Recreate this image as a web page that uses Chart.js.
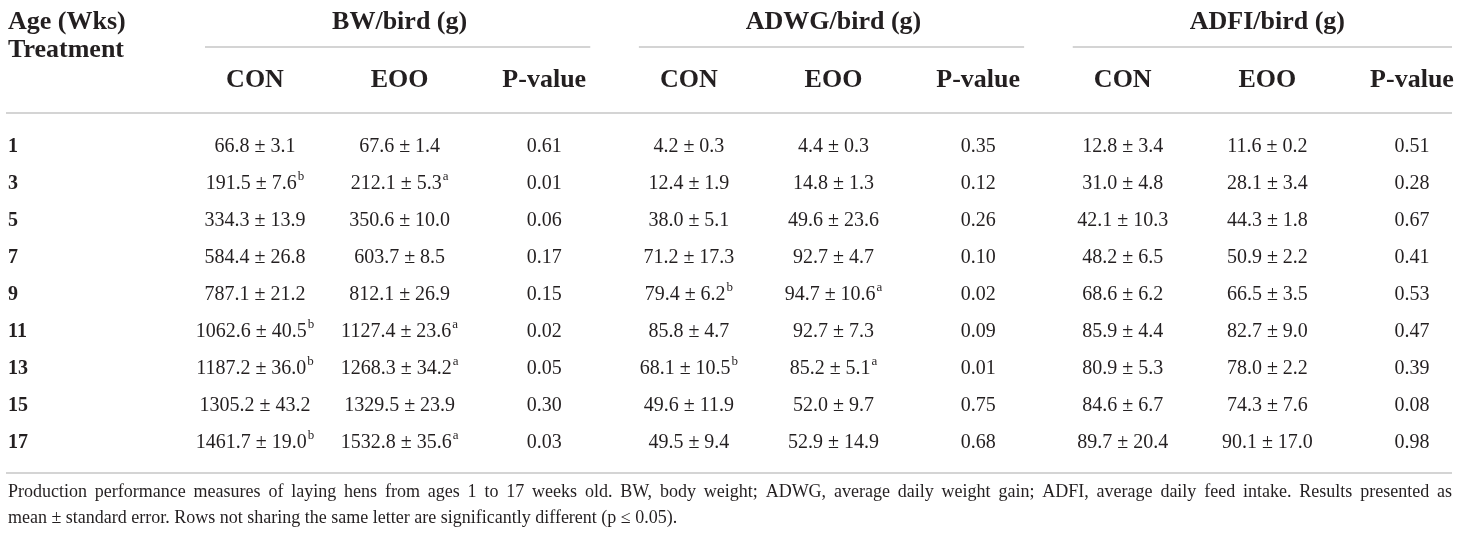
<!DOCTYPE html>
<html>
<head>
<meta charset="utf-8">
<title>Production performance of laying hens</title>
<script src="https://cdn.jsdelivr.net/npm/chart.js@4.4.0/dist/chart.umd.min.js"></script>
<style>
  html, body { margin: 0; padding: 0; background: #fff; }
  #wrap { width: 1460px; height: 540px; }
</style>
</head>
<body>
<div id="wrap"><canvas id="tbl" width="1460" height="540"></canvas></div>
<script>
// ---- table values ----
const ages = ['1', '3', '5', '7', '9', '11', '13', '15', '17'];
const groups = ['BW/bird (g)', 'ADWG/bird (g)', 'ADFI/bird (g)'];
const subCols = ['CON', 'EOO', 'P-value'];

const bwCon = [66.8, 191.5, 334.3, 584.4, 787.1, 1062.6, 1187.2, 1305.2, 1461.7];
const bwConSe = [3.1, 7.6, 13.9, 26.8, 21.2, 40.5, 36.0, 43.2, 19.0];
const bwConSup = ['', 'b', '', '', '', 'b', 'b', '', 'b'];
const bwEoo = [67.6, 212.1, 350.6, 603.7, 812.1, 1127.4, 1268.3, 1329.5, 1532.8];
const bwEooSe = [1.4, 5.3, 10.0, 8.5, 26.9, 23.6, 34.2, 23.9, 35.6];
const bwEooSup = ['', 'a', '', '', '', 'a', 'a', '', 'a'];
const bwP = [0.61, 0.01, 0.06, 0.17, 0.15, 0.02, 0.05, 0.30, 0.03];

const adwgCon = [4.2, 12.4, 38.0, 71.2, 79.4, 85.8, 68.1, 49.6, 49.5];
const adwgConSe = [0.3, 1.9, 5.1, 17.3, 6.2, 4.7, 10.5, 11.9, 9.4];
const adwgConSup = ['', '', '', '', 'b', '', 'b', '', ''];
const adwgEoo = [4.4, 14.8, 49.6, 92.7, 94.7, 92.7, 85.2, 52.0, 52.9];
const adwgEooSe = [0.3, 1.3, 23.6, 4.7, 10.6, 7.3, 5.1, 9.7, 14.9];
const adwgEooSup = ['', '', '', '', 'a', '', 'a', '', ''];
const adwgP = [0.35, 0.12, 0.26, 0.10, 0.02, 0.09, 0.01, 0.75, 0.68];

const adfiCon = [12.8, 31.0, 42.1, 48.2, 68.6, 85.9, 80.9, 84.6, 89.7];
const adfiConSe = [3.4, 4.8, 10.3, 6.5, 6.2, 4.4, 5.3, 6.7, 20.4];
const adfiEoo = [11.6, 28.1, 44.3, 50.9, 66.5, 82.7, 78.0, 74.3, 90.1];
const adfiEooSe = [0.2, 3.4, 1.8, 2.2, 3.5, 9.0, 2.2, 7.6, 17.0];
const adfiP = [0.51, 0.28, 0.67, 0.41, 0.53, 0.47, 0.39, 0.08, 0.98];

const notes = [
  'Production performance measures of laying hens from ages 1 to 17 weeks old. BW, body weight; ADWG, average daily weight gain; ADFI, average daily feed intake. Results presented as',
  'mean \u00b1 standard error. Rows not sharing the same letter are significantly different (p \u2264 0.05).'
];

// ---- styles ----
const INK = '#231f20';
const RULE = '#c6c6c6';
const SERIF = '"Liberation Serif", "DejaVu Serif", serif';

// one entry per table column, in the same order as the x labels
const noSup = ages.map(() => '');
const columns = [
  { mean: bwCon, se: bwConSe, sup: bwConSup },
  { mean: bwEoo, se: bwEooSe, sup: bwEooSup },
  { p: bwP },
  { mean: adwgCon, se: adwgConSe, sup: adwgConSup },
  { mean: adwgEoo, se: adwgEooSe, sup: adwgEooSup },
  { p: adwgP },
  { mean: adfiCon, se: adfiConSe, sup: noSup },
  { mean: adfiEoo, se: adfiEooSe, sup: noSup },
  { p: adfiP }
];
// unique keys for the x scale ("group|sub"), the tick shows only the sub part
const colKeys = [];
groups.forEach(g => subCols.forEach(s => colKeys.push(g + '|' + s)));

function cellText(col, r) {
  if (col.p) return col.p[r].toFixed(2);
  return col.mean[r].toFixed(1) + ' \u00b1 ' + col.se[r].toFixed(1);
}

const datasets = columns.map((col, ci) => ({
  label: colKeys[ci],
  data: ages.map(a => ({ x: colKeys[ci], y: a })),
  texts: ages.map((a, r) => cellText(col, r)),
  sups: col.sup || noSup,
  pointRadius: 0,
  pointHoverRadius: 0
}));

function hline(ctx, x1, x2, y) {
  ctx.beginPath();
  ctx.moveTo(x1, y);
  ctx.lineTo(x2, y);
  ctx.stroke();
}

const tablePlugin = {
  id: 'tableText',
  afterDatasetsDraw(chart) {
    const ctx = chart.ctx;
    const x = chart.scales.x;
    const area = chart.chartArea;
    const right = chart.width - 8;
    ctx.save();

    // horizontal rules
    ctx.strokeStyle = RULE;
    ctx.lineWidth = 1.5;
    hline(ctx, 6, right, area.top - 34);
    hline(ctx, 6, right, area.bottom + 30);

    // header block
    ctx.fillStyle = INK;
    ctx.font = 'bold 26px ' + SERIF;
    ctx.textBaseline = 'alphabetic';
    ctx.textAlign = 'left';
    ctx.fillText('Age (Wks)', 8, area.top - 118);
    ctx.fillText('Treatment', 8, area.top - 90);

    ctx.textAlign = 'center';
    groups.forEach((g, gi) => {
      const a = x.getPixelForValue(gi * 3);
      const b = x.getPixelForValue(gi * 3 + 2);
      ctx.fillText(g, (a + b) / 2, area.top - 118);
      hline(ctx, a - 50, Math.min(b + 46, right), area.top - 100);
    });

    // body cells, placed on the dataset points
    chart.data.datasets.forEach((ds, di) => {
      const meta = chart.getDatasetMeta(di);
      meta.data.forEach((pt, r) => {
        const txt = ds.texts[r];
        const sup = ds.sups[r];
        ctx.font = '20px ' + SERIF;
        const w = ctx.measureText(txt).width;
        ctx.font = '13px ' + SERIF;
        const sw = sup ? ctx.measureText(sup).width + 1 : 0;
        const x0 = pt.x - (w + sw) / 2;
        ctx.textAlign = 'left';
        ctx.textBaseline = 'middle';
        ctx.font = '20px ' + SERIF;
        ctx.fillText(txt, x0, pt.y);
        if (sup) {
          ctx.font = '13px ' + SERIF;
          ctx.fillText(sup, x0 + w + 1, pt.y - 7);
        }
      });
    });

    // footnote, first line justified
    ctx.font = '18px ' + SERIF;
    ctx.textAlign = 'left';
    ctx.textBaseline = 'middle';
    notes.forEach((line, li) => {
      const y = area.bottom + 49 + li * 26;
      if (li === notes.length - 1) {
        ctx.fillText(line, 8, y);
        return;
      }
      const words = line.split(' ');
      const wsum = words.reduce((s, wd) => s + ctx.measureText(wd).width, 0);
      const gap = (right - 8 - wsum) / (words.length - 1);
      let cx = 8;
      words.forEach(wd => {
        ctx.fillText(wd, cx, y);
        cx += ctx.measureText(wd).width + gap;
      });
    });
    ctx.restore();
  }
};

new Chart(document.getElementById('tbl'), {
  type: 'scatter',
  data: { datasets },
  plugins: [tablePlugin],
  options: {
    responsive: false,
    animation: false,
    events: [],
    layout: { padding: { left: 8, right: 48, top: 0, bottom: 97 } },
    plugins: { legend: { display: false }, tooltip: { enabled: false } },
    scales: {
      x: {
        type: 'category',
        labels: colKeys,
        position: 'top',
        offset: false,
        // invisible tick marks give the vertical gap above the body rows
        grid: {
          display: true,
          drawOnChartArea: false,
          drawTicks: true,
          tickLength: 51,
          color: 'rgba(0,0,0,0)'
        },
        border: { display: false },
        ticks: {
          autoSkip: false,
          maxRotation: 0,
          padding: 0,
          color: INK,
          font: { family: SERIF, size: 26, weight: 'bold' },
          callback(v) { return colKeys[v].split('|')[1]; }
        },
        afterFit(scale) { scale.height = 147; }
      },
      y: {
        type: 'category',
        labels: ages,
        offset: false,
        grid: { display: false },
        border: { display: false },
        ticks: {
          autoSkip: false,
          crossAlign: 'far',
          color: INK,
          font: { family: SERIF, size: 20, weight: 'bold' }
        },
        afterFit(scale) { scale.width = 247; }
      }
    }
  }
});
</script>
</body>
</html>
